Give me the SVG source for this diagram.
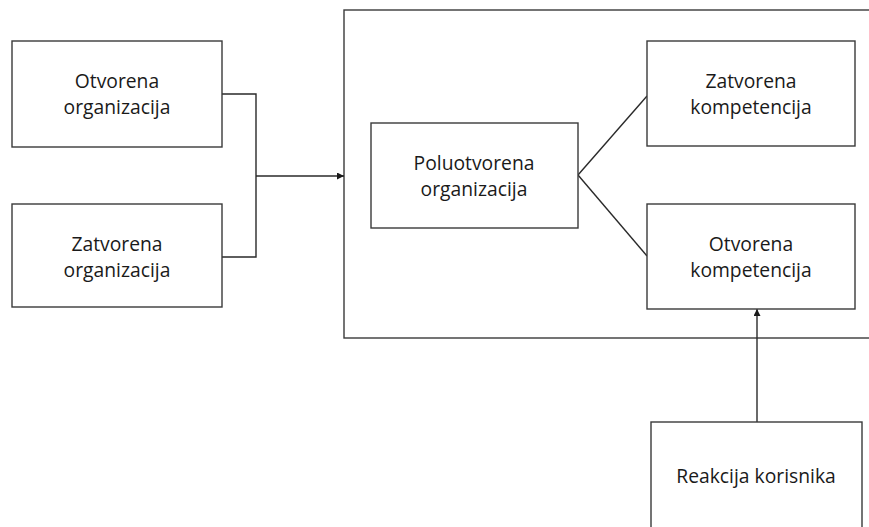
<svg xmlns="http://www.w3.org/2000/svg" width="869" height="527" viewBox="0 0 869 527">
  <style>
    .box { fill: #ffffff; stroke: #3a3a3a; stroke-width: 1.4; }
    .wire { fill: none; stroke: #2a2a2a; stroke-width: 1.4; }
    .lbl { font-family: "Open Sans", "Liberation Sans", sans-serif; font-size: 19.3px; fill: #1a1a1a; text-anchor: middle; }
  </style>
  <defs>
    <marker id="arrow" viewBox="0 0 10 10" refX="10" refY="5" markerWidth="7" markerHeight="7" orient="auto" markerUnits="userSpaceOnUse">
      <path d="M0,0 L10,5 L0,10 Z" fill="#1a1a1a"/>
    </marker>
  </defs>
  <rect width="869" height="527" fill="#ffffff"/>

  <!-- outer container (runs past the right edge) -->
  <g id="container">
    <rect class="box" x="344" y="10" width="540" height="328"/>
  </g>

  <g id="connectors">
    <polyline class="wire" points="222,94 256,94 256,257 222,257"/>
    <line class="wire" x1="256" y1="176" x2="344" y2="176" marker-end="url(#arrow)"/>
    <line class="wire" x1="578" y1="175" x2="647" y2="96"/>
    <line class="wire" x1="578" y1="175" x2="647" y2="256"/>
    <line class="wire" x1="757" y1="422" x2="757" y2="309" marker-end="url(#arrow)"/>
  </g>

  <g id="otvorena-organizacija">
    <rect class="box" x="12" y="41" width="210" height="106"/>
    <text class="lbl" x="117" y="88">Otvorena</text>
    <text class="lbl" x="117" y="114">organizacija</text>
  </g>

  <g id="zatvorena-organizacija">
    <rect class="box" x="12" y="204" width="210" height="103"/>
    <text class="lbl" x="117" y="251">Zatvorena</text>
    <text class="lbl" x="117" y="277">organizacija</text>
  </g>

  <g id="poluotvorena-organizacija">
    <rect class="box" x="371" y="123" width="207" height="105"/>
    <text class="lbl" x="474" y="170">Poluotvorena</text>
    <text class="lbl" x="474" y="196">organizacija</text>
  </g>

  <g id="zatvorena-kompetencija">
    <rect class="box" x="647" y="41" width="208" height="105"/>
    <text class="lbl" x="751" y="88">Zatvorena</text>
    <text class="lbl" x="751" y="114">kompetencija</text>
  </g>

  <g id="otvorena-kompetencija">
    <rect class="box" x="647" y="204" width="208" height="105"/>
    <text class="lbl" x="751" y="251">Otvorena</text>
    <text class="lbl" x="751" y="277">kompetencija</text>
  </g>

  <g id="reakcija-korisnika">
    <rect class="box" x="651" y="422" width="211" height="120"/>
    <text class="lbl" x="756" y="483">Reakcija korisnika</text>
  </g>
</svg>
